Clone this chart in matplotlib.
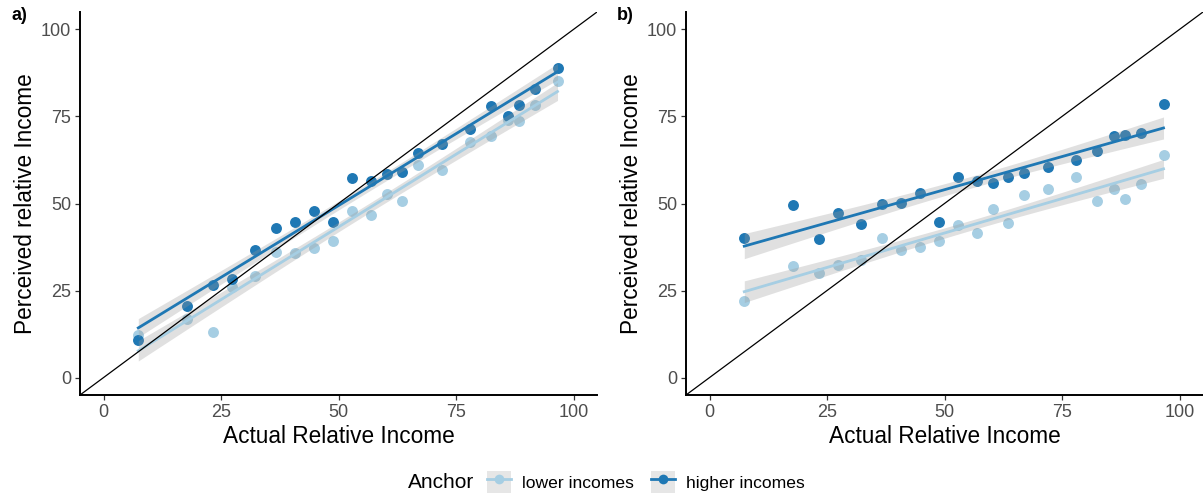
import numpy as np
import matplotlib
matplotlib.use("Agg")
import matplotlib.pyplot as plt
from matplotlib.lines import Line2D
from matplotlib.patches import Rectangle
from matplotlib.legend_handler import HandlerTuple

plt.rcParams['font.family'] = ['Liberation Sans', 'DejaVu Sans']

# Actual relative income (shared by both panels)
actual = [7.4, 17.8, 23.3, 27.3, 32.3, 36.8, 40.8, 44.8, 48.8, 52.9, 56.9,
          60.3, 63.6, 67.0, 72.1, 78.0, 82.5, 86.0, 88.4, 91.8, 96.6]

# Panel a) perceived relative income by anchor
a_lower = [12.1, 16.9, 13.1, 25.9, 29.1, 36.1, 35.9, 37.3, 39.3, 47.9, 46.7,
           52.7, 50.8, 61.0, 59.7, 67.7, 69.3, 74.1, 73.8, 78.4, 85.3]
a_higher = [10.7, 20.7, 26.5, 28.2, 36.6, 42.9, 44.6, 47.8, 44.8, 57.3, 56.5,
            58.5, 59.1, 64.6, 67.1, 71.5, 78.1, 75.2, 78.4, 83.0, 89.0]

# Panel b) perceived relative income by anchor
b_lower = [21.9, 32.1, 30.1, 32.3, 33.9, 40.0, 36.6, 37.4, 39.3, 43.8, 41.4,
           48.4, 44.5, 52.4, 54.1, 57.6, 50.8, 54.2, 51.3, 55.5, 63.9]
b_higher = [40.1, 49.6, 39.7, 47.3, 44.0, 49.9, 50.1, 53.1, 44.7, 57.7, 56.5,
            55.8, 57.7, 58.7, 60.6, 62.5, 65.1, 69.3, 69.7, 70.2, 78.6]

anchors = ["lower incomes", "higher incomes"]
colors = ["#a6cee3", "#1f78b4"]
ticks = [0, 25, 50, 75, 100]

T975 = 2.093  # t quantile, 19 degrees of freedom


def lm_band(x, y, ax, color):
    x = np.asarray(x, float)
    y = np.asarray(y, float)
    n = len(x)
    b1, b0 = np.polyfit(x, y, 1)
    resid = y - (b0 + b1 * x)
    s = np.sqrt(np.sum(resid ** 2) / (n - 2))
    xs = np.linspace(x.min(), x.max(), 100)
    fit = b0 + b1 * xs
    se = s * np.sqrt(1 / n + (xs - x.mean()) ** 2 / np.sum((x - x.mean()) ** 2))
    ax.fill_between(xs, fit - T975 * se, fit + T975 * se, color="#999999",
                    alpha=0.3, lw=0, zorder=3)
    ax.plot(xs, fit, color=color, lw=2.0, zorder=4)


fig = plt.figure(figsize=(12.03, 4.96), dpi=100)
W, H = 1203, 496
panels = [(80, "a)", a_lower, a_higher), (686, "b)", b_lower, b_higher)]

for left, tag, lower, higher in panels:
    ax = fig.add_axes([left / W, (H - 395) / H, 517 / W, 383 / H])
    for vals, col in zip([lower, higher], colors):
        ax.scatter(actual, vals, s=62, color=col, lw=0, zorder=2)
    for vals, col in zip([lower, higher], colors):
        lm_band(actual, vals, ax, col)
    ax.plot([-5, 105], [-5, 105], color="black", lw=0.9, zorder=5)
    ax.set_xlim(-5, 105)
    ax.set_ylim(-5, 105)
    ax.set_xticks(ticks)
    ax.set_yticks(ticks)
    for side in ["top", "right"]:
        ax.spines[side].set_visible(False)
    for side in ["left", "bottom"]:
        ax.spines[side].set_linewidth(1.4)
        ax.spines[side].set_color("black")
    ax.tick_params(axis="both", length=3.5, width=0.9, color="#333333",
                   labelcolor="#4d4d4d", labelsize=13, pad=3)
    ax.set_xlabel("Actual Relative Income", fontsize=16.3, labelpad=3)
    ax.set_ylabel("Perceived relative Income", fontsize=16.3, labelpad=3)
    fig.text((left - 69) / W, 1 - 16 / H, tag, fontsize=13, fontweight="bold",
             ha="left", va="center")

# Legend along the bottom
fig.text(408 / W, 1 - 483 / H, "Anchor", fontsize=15, ha="left", va="center")
handles = []
for col in colors:
    bg = Rectangle((0, 0), 1, 1, facecolor="#e6e6e6", edgecolor="none")
    mk = Line2D([], [], color=col, lw=2.0, marker="o", markersize=7,
                markeredgewidth=0)
    handles.append((bg, mk))
fig.legend(handles, anchors,
           handler_map={tuple: HandlerTuple(ndivide=1, pad=0)},
           loc="center left", bbox_to_anchor=(487 / W, 1 - 482 / H), ncol=2,
           frameon=False, fontsize=12.6, handlelength=1.38, handleheight=1.6,
           handletextpad=0.63, columnspacing=0.95, borderpad=0,
           borderaxespad=0)

fig.savefig("out.png", dpi=100)
